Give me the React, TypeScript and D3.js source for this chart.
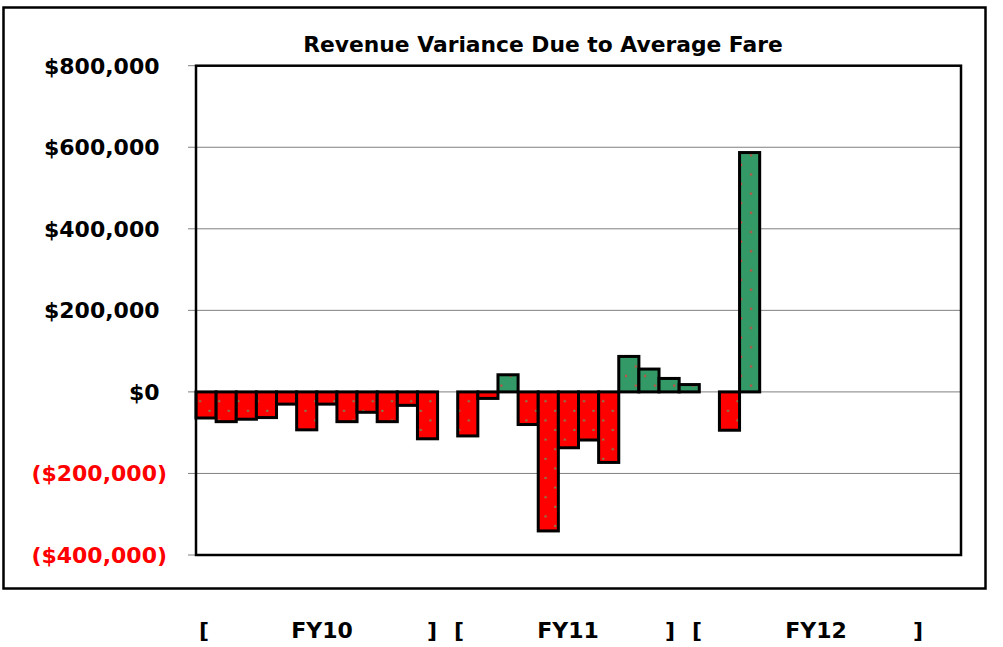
import React from "react";
import * as d3 from "d3";

// ---- data ----
const fiscalYears = ["FY10", "FY11", "FY12"];
const fy10Values = [-64000, -73000, -67000, -63000, -30000, -93000, -30000, -73000, -50000, -73000, -33000, -115000];
const fy11Values = [-108000, -16000, 42000, -80000, -341000, -137000, -118000, -173000, 87000, 56000, 33000, 18000];
const fy12Values = [-94000, 587000];
const yTicks = [-400000, -200000, 0, 200000, 400000, 600000, 800000];
const titleText = "Revenue Variance Due to Average Fare";

type Slot = { key: string; value: number | null };

function buildSlots(): Slot[] {
  const groups = [fy10Values, fy11Values, fy12Values];
  const slots: Slot[] = [];
  groups.forEach((vals, gi) => {
    for (let m = 0; m < 12; m++) {
      slots.push({ key: `${fiscalYears[gi]}-${m}`, value: m < vals.length ? vals[m] : null });
    }
    if (gi < groups.length - 1) slots.push({ key: `gap-${gi}`, value: null });
  });
  return slots;
}

const W = 1003;
const H = 647;
const plot = { left: 196, top: 65.7, right: 961, bottom: 555 };
const FONT = "'DejaVu Sans', Verdana, sans-serif";

function fmt(v: number) {
  const s = "$" + d3.format(",")(Math.abs(v));
  return v < 0 ? `(${s})` : s;
}

export default function App() {
  const slots = buildSlots();
  const x = d3
    .scaleBand<string>()
    .domain(slots.map((s) => s.key))
    .range([plot.left, plot.right])
    .paddingInner(0)
    .paddingOuter(0);
  const y = d3.scaleLinear().domain([-400000, 800000]).range([plot.bottom, plot.top]);

  // positions of the fiscal-year annotation text pieces below the frame
  const labelLayout = [
    { open: 204, mid: 322, close: 432 },
    { open: 459, mid: 568, close: 670 },
    { open: 697, mid: 816, close: 918 },
  ];

  return (
    <svg
      width={W}
      height={H}
      style={{ position: "absolute", left: 0, top: 0, background: "#fff" }}
    >
      <defs>
        <pattern id="redDots" width={19.2} height={19.2} patternUnits="userSpaceOnUse" x={0} y={0}>
          <rect width={19.2} height={19.2} fill="#ff0000" />
          <rect x={7} y={16.2} width={2} height={2} fill="#7a8a5a" />
          <rect x={16.6} y={6.6} width={2} height={2} fill="#7a8a5a" />
        </pattern>
        <pattern id="greenDots" width={19.2} height={19.2} patternUnits="userSpaceOnUse" x={0} y={0}>
          <rect width={19.2} height={19.2} fill="#339966" />
          <rect x={1.2} y={0.6} width={2} height={2} fill="#e0403a" />
          <rect x={10.6} y={10.2} width={2} height={2} fill="#e0403a" />
        </pattern>
      </defs>

      {/* outer frame */}
      <rect x={3.5} y={7.5} width={982} height={581} fill="#fff" stroke="#000" strokeWidth={2.5} />

      {/* title */}
      <text
        x={543}
        y={52}
        textAnchor="middle"
        fontFamily={FONT}
        fontWeight="bold"
        fontSize={21.8}
        fill="#000"
      >
        {titleText}
      </text>

      {/* gridlines */}
      {yTicks
        .filter((t) => t !== -400000 && t !== 800000)
        .map((t) => (
          <line
            key={`g${t}`}
            x1={plot.left}
            x2={plot.right}
            y1={y(t)}
            y2={y(t)}
            stroke="#808080"
            strokeWidth={1}
          />
        ))}

      {/* ticks and labels */}
      {yTicks.map((t) => (
        <g key={`t${t}`}>
          <line x1={188} x2={plot.left} y1={y(t)} y2={y(t)} stroke="#808080" strokeWidth={1} />
          <text
            x={t < 0 ? 167 : 159.5}
            y={y(t)}
            dy="0.36em"
            textAnchor="end"
            fontFamily={FONT}
            fontWeight="bold"
            fontSize={22}
            fill={t < 0 ? "#ff0000" : "#000"}
          >
            {fmt(t)}
          </text>
        </g>
      ))}

      {/* bars */}
      {slots
        .filter((s) => s.value !== null)
        .map((s) => {
          const v = s.value as number;
          const y0 = y(0);
          const yv = y(v);
          return (
            <rect
              key={s.key}
              x={x(s.key)}
              width={x.bandwidth()}
              y={Math.min(y0, yv)}
              height={Math.abs(yv - y0)}
              fill={v >= 0 ? "url(#greenDots)" : "url(#redDots)"}
              stroke="#000"
              strokeWidth={3}
            />
          );
        })}

      {/* plot border */}
      <rect
        x={plot.left}
        y={plot.top}
        width={plot.right - plot.left}
        height={plot.bottom - plot.top}
        fill="none"
        stroke="#000"
        strokeWidth={2.5}
      />

      {/* fiscal year annotations */}
      {fiscalYears.map((fy, i) => (
        <g
          key={fy}
          fontFamily={FONT}
          fontWeight="bold"
          fontSize={22}
          fill="#000"
        >
          <text x={labelLayout[i].open} y={638} textAnchor="middle">[</text>
          <text x={labelLayout[i].mid} y={638} textAnchor="middle">{fy}</text>
          <text x={labelLayout[i].close} y={638} textAnchor="middle">]</text>
        </g>
      ))}
    </svg>
  );
}
